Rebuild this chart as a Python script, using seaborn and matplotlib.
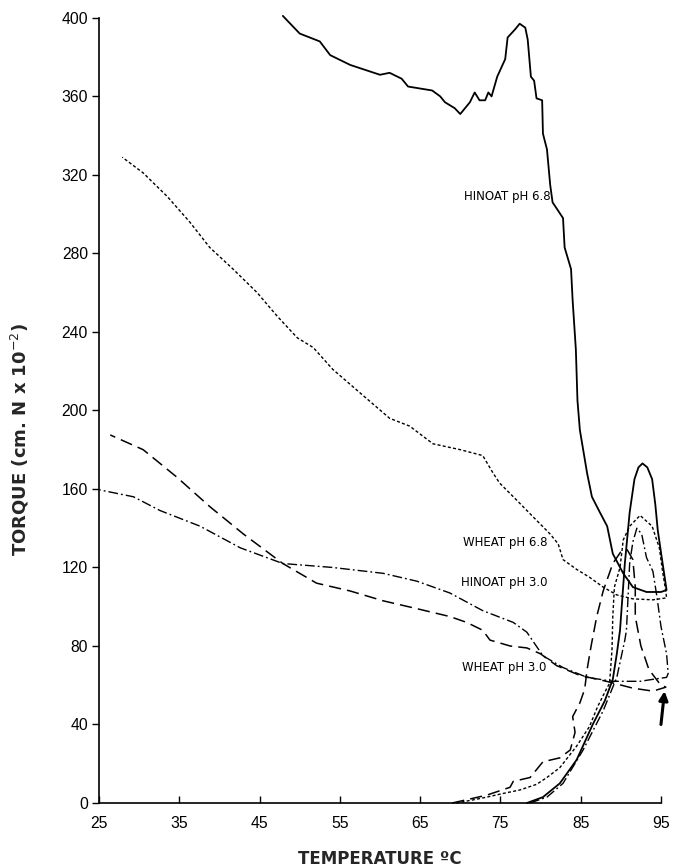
import matplotlib
matplotlib.use("Agg")
import matplotlib.pyplot as plt
import pandas as pd
import seaborn as sns

# Torque traces (temperature in deg C, torque in cm.N x 10^-2):
# heating rise, hold loop near 95 deg C, then cooling back towards 25 deg C.
hinoat68_temp = [78.3, 80.3, 82.4, 84.5, 86.5, 88.0, 89.0, 89.5, 89.9, 90.2, 90.5, 90.8,
                 91.1, 91.7, 92.2, 92.7, 93.3, 93.9, 94.3, 94.6, 95.1, 95.5, 95.7, 95.0,
                 93.2, 91.5, 90.3, 89.0, 88.3, 87.4, 86.4, 85.8, 84.9, 84.6, 84.4, 84.0,
                 83.8, 83.0, 82.8, 81.5, 81.2, 80.8, 80.3, 80.2, 79.5, 79.2, 78.8, 78.4,
                 78.1, 77.4, 76.8, 75.9, 75.6, 74.6, 73.9, 73.5, 73.1, 72.4, 71.8, 71.2,
                 70.0, 69.3, 68.1, 67.5, 66.5, 65.0, 63.5, 62.7, 61.2, 60.0, 56.3, 53.8,
                 52.5, 50.0, 47.9]
hinoat68_torque = [0, 3, 10, 22, 40, 52, 63, 76, 88, 105, 122, 135,
                   148, 165, 171, 173, 171, 165, 152, 139, 125, 114, 108.5, 107.5,
                   107.5, 110, 117, 127, 141, 148, 156, 168, 190, 205, 231, 256,
                   272, 283, 298, 306, 315, 333, 341, 358, 359, 368, 370, 389,
                   395, 397, 394, 390, 379, 370, 360, 362, 358, 358, 362, 357,
                   351, 354, 357, 360, 363, 364, 365, 369, 372, 371, 376, 381,
                   388, 392, 401]

wheat68_temp = [69.5, 71.5, 73.3, 75.5, 77.4, 79.5, 80.8, 82.4, 84.5, 86.1, 87.1, 88.2,
                88.6, 88.9, 89.0, 89.2, 89.9, 90.3, 91.1, 92.4, 93.9, 94.8, 95.2, 95.6,
                95.7, 94.0, 91.5, 89.5, 87.8, 86.1, 84.5, 82.8, 82.2, 81.2, 78.3, 77.1,
                74.9, 74.1, 72.8, 70.0, 66.6, 63.7, 61.2, 57.5, 54.1, 51.7, 49.7, 47.2,
                44.7, 41.7, 38.8, 36.3, 33.5, 30.5, 27.9]
wheat68_torque = [0, 1.5, 3, 5, 6.6, 9.5, 13, 18, 29, 39, 49, 58,
                  61, 78, 95, 110, 120, 134, 141, 146.5, 141, 130, 118, 108,
                  104.5, 103.5, 104, 106, 110, 115, 119, 124, 132, 137, 149, 154,
                  163, 168, 177, 180, 183, 192, 196, 209, 221, 232, 237, 248,
                  260, 272, 283, 296, 309, 321, 329]

hinoat30_temp = [78.7, 80.8, 82.8, 85.3, 87.8, 89.5, 90.5, 90.7, 91.1, 91.5, 92.0, 92.6,
                 93.2, 94.0, 94.5, 95.0, 95.7, 95.9, 95.7, 94.0, 92.4, 89.0, 85.8, 82.8,
                 80.3, 78.3, 76.6, 72.8, 68.7, 64.6, 60.4, 54.1, 47.9, 42.6, 37.6, 32.6,
                 29.3, 25.1]
hinoat30_torque = [0, 3, 10, 27, 47, 64, 83, 88, 122, 133, 140, 137,
                   125, 118, 105, 90, 76, 66, 64, 63, 62, 62, 64, 69,
                   75, 87, 92, 98, 107, 113, 117, 120, 122, 130, 141, 149,
                   156, 159.5]

wheat30_temp = [69.0, 73.3, 76.2, 76.6, 78.7, 80.3, 82.4, 83.7, 84.3, 84.0, 84.9, 85.5,
                85.8, 86.3, 87.0, 87.8, 89.0, 90.0, 90.8, 91.5, 91.8, 91.8, 92.5, 93.5,
                94.8, 95.6, 94.0, 91.5, 88.2, 84.9, 82.0, 80.0, 78.3, 76.2, 73.7, 72.8,
                70.8, 68.7, 64.6, 60.4, 56.3, 52.1, 47.9, 43.0, 38.8, 34.7, 30.5, 26.4]
wheat30_torque = [0, 4, 8, 11, 13, 21, 23, 27, 36, 44, 51, 58,
                  68, 80, 95, 108, 122, 128, 129, 124, 110, 95, 80, 68,
                  61, 59, 57, 58.5, 62, 65, 70, 76, 79, 80, 83, 88,
                  92, 95, 99, 103, 108, 112, 122, 137, 151, 166, 180, 187.5]

x_ticks = [25, 35, 45, 55, 65, 75, 85, 95]
y_ticks = [0, 40, 80, 120, 160, 200, 240, 280, 320, 360, 400]

curve_labels = ["HINOAT pH 6.8", "WHEAT pH 6.8", "HINOAT pH 3.0", "WHEAT pH 3.0"]
label_pos = [(81.2, 309), (80.9, 132.5), (80.9, 112.5), (80.7, 69)]

sns.set_style("ticks")
plt.rcParams["font.family"] = ["Liberation Sans", "DejaVu Sans"]

fig = plt.figure(figsize=(6.73, 8.67), dpi=100)
ax = fig.add_axes([99 / 673, 64 / 867, 574 / 673, 793 / 867])

curves = [
    (hinoat68_temp, hinoat68_torque, "-", 1.3),
    (wheat68_temp, wheat68_torque, (0, (2.2, 1.6)), 1.0),
    (hinoat30_temp, hinoat30_torque, (0, (7, 2.2, 1.3, 2.2)), 1.0),
    (wheat30_temp, wheat30_torque, (0, (8, 4)), 1.1),
]
for temp, torque, ls, lw in curves:
    df = pd.DataFrame({"temp": temp, "torque": torque})
    sns.lineplot(data=df, x="temp", y="torque", sort=False, estimator=None,
                 color="black", linestyle=ls, linewidth=lw, ax=ax, clip_on=False)

for text, (tx, ty) in zip(curve_labels, label_pos):
    ax.text(tx, ty, text, ha="right", va="center", fontsize=8.5, color="black",
            family="DejaVu Sans")

# Arrow marking the start of cooling
ax.annotate("", xy=(95.45, 57), xytext=(95.0, 40),
            arrowprops=dict(arrowstyle="-|>", lw=2.2, color="black",
                            mutation_scale=13, shrinkA=0, shrinkB=0))

ax.set_xlim(25, 96.5)
ax.set_ylim(0, 404)
ax.set_xticks(x_ticks)
ax.set_yticks(y_ticks)
ax.set_xticklabels([str(t) for t in x_ticks])
ax.set_yticklabels([str(t) for t in y_ticks])
ax.spines["top"].set_visible(False)
ax.spines["right"].set_visible(False)
ax.spines["left"].set_bounds(0, 400)
ax.spines["bottom"].set_bounds(25, 95)
for s in ("left", "bottom"):
    ax.spines[s].set_linewidth(1.2)
    ax.spines[s].set_color("black")
ax.tick_params(axis="x", direction="in", length=5, width=1, pad=9, labelsize=11.3, colors="black")
ax.tick_params(axis="y", direction="out", length=5, width=1, pad=3, labelsize=11.3, colors="black")

ax.set_xlabel("")
ax.set_ylabel("")
fig.text(380 / 673, 1 - 859 / 867, "TEMPERATURE ºC", ha="center", va="center",
         fontsize=12, fontweight="bold", family="DejaVu Sans")
fig.text(20 / 673, 1 - 440 / 867, "TORQUE (cm. N x 10$^{-2}$)", ha="center", va="center",
         rotation=90, fontsize=13, fontweight="bold", family="DejaVu Sans")

fig.savefig("out.png", dpi=100, facecolor="white")
